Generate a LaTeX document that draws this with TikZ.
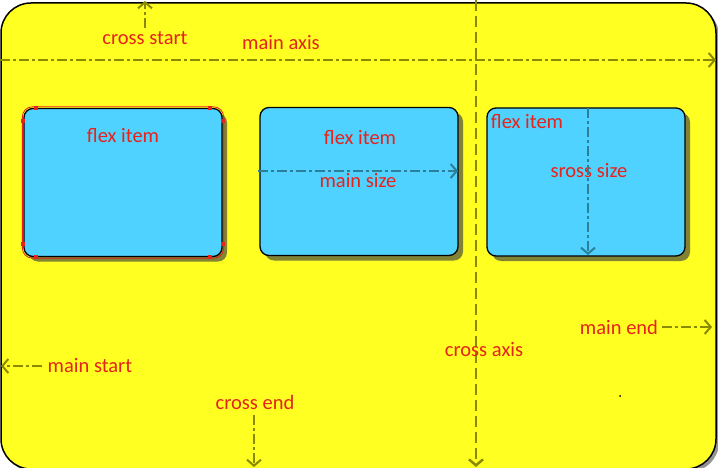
\documentclass[tikz,border=0pt]{standalone}
\usepackage{fontspec}
\setmainfont{Carlito}
\usetikzlibrary{arrows.meta,shadows}

\definecolor{bgyellow}{HTML}{FFFF22}
\definecolor{itemblue}{HTML}{4FD2FF}
\definecolor{axisolive}{HTML}{8A8A00}
\definecolor{labelred}{HTML}{E5231B}
\definecolor{sizeteal}{HTML}{2C7F99}

\tikzset{
  flexitem/.style={draw=black, line width=1.3pt, fill=itemblue, rounded corners=9pt,
    minimum width=198pt, minimum height=148pt, inner sep=0pt,
    drop shadow={shadow xshift=5pt, shadow yshift=-5pt, opacity=0.65, fill=black!75}},
  lbl/.style={text=labelred, font=\fontsize{20.5}{24}\selectfont, inner sep=0pt},
  barb/.style={-{Straight Barb[length=6pt,width=14pt]}},
  axisline/.style={barb, draw=axisolive, line width=2pt,
    dash pattern=on 10pt off 3pt on 3pt off 3pt},
  crossline/.style={barb, draw=axisolive, line width=2.5pt,
    dash pattern=on 11pt off 5pt},
  sizeline/.style={barb, draw=sizeteal, line width=2pt,
    dash pattern=on 10pt off 3pt on 3pt off 3pt},
  handle/.style={fill=labelred, minimum size=4pt, inner sep=0pt}
}

\begin{document}
\begin{tikzpicture}[x=1pt, y=-1pt]
  \useasboundingbox (0,0) rectangle (718,468);

  % container
  \draw[fill=bgyellow, line width=1.5pt, rounded corners=30pt,
    drop shadow={shadow xshift=3pt, shadow yshift=-3pt, opacity=0.6, fill=black!70}]
    (1,3) rectangle (716,469);

  % items
  \node[flexitem] (itema) at (123,182.5) {};
  \node[flexitem] (itemb) at (359,181.5) {};
  \node[flexitem] (itemc) at (586,182) {};

  % selection of the first item
  \draw[labelred, line width=0.8pt, rounded corners=10pt]
    ([shift={(-1pt,1pt)}]itema.north west) rectangle ([shift={(1pt,-1pt)}]itema.south east);
  \foreach \dx/\dy/\corner in {13/0/north west, -13/0/north east, 0/-13/north west, 0/-13/north east,
                               0/13/south west, 0/13/south east, 13/0/south west, -13/0/south east}
    \node[handle] at ([shift={(\dx pt,\dy pt)}]itema.\corner) {};

  % axes
  \coordinate (mainfrom) at (0,60);
  \coordinate (mainto) at (716,60);
  \coordinate (crossfrom) at (476,0);
  \coordinate (crossto) at (476,467);
  \draw[axisline] (mainfrom) -- (mainto);
  \draw[crossline] (crossfrom) -- (crossto);

  % labels
  \node[lbl] (crossstart) at (145,38) {cross start};
  \node[lbl] (mainaxis) at (281,43) {main axis};
  \node[lbl] (flexa) at (123,136) {flex item};
  \node[lbl] (flexb) at (360,138) {flex item};
  \node[lbl] (mainsize) at (358,181) {main size};
  \node[lbl] (flexc) at (527,122) {flex item};
  \node[lbl] (crosssize) at (589,171) {sross size};
  \node[lbl] (mainend) at (619,327) {main end};
  \node[lbl] (crossaxis) at (484,350) {cross axis};
  \node[lbl] (mainstart) at (90,366) {main start};
  \node[lbl] (crossend) at (255,402) {cross end};

  % sizes
  \coordinate (sizel) at (258,171);
  \coordinate (sizer) at (458,171);
  \coordinate (sizet) at (588,108);
  \coordinate (sizeb) at (588,255);
  \draw[sizeline] (sizel) -- (sizer);
  \draw[sizeline] (sizet) -- (sizeb);

  % start and end markers
  \coordinate (crossstarttip) at (145,1);
  \coordinate (mainstarttip) at (1,366);
  \coordinate (crossendtip) at (254,467);
  \coordinate (mainendtip) at (712,327);
  \draw[axisline] ([yshift=3pt]crossstart.north -| crossstarttip) -- (crossstarttip);
  \draw[axisline] ([xshift=-6pt]mainstart.west) -- (mainstarttip);
  \draw[axisline] ([yshift=-6pt]crossend.south -| crossendtip) -- (crossendtip);
  \draw[axisline] ([xshift=4pt]mainend.east) -- (mainendtip);

  \fill (620,396) circle (1pt);
\end{tikzpicture}
\end{document}
